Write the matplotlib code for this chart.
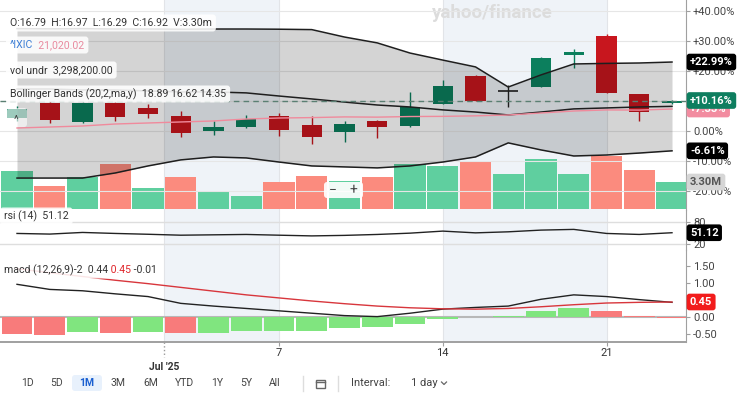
import numpy as np
import matplotlib
matplotlib.use('Agg')
import matplotlib.pyplot as plt
from matplotlib.patches import FancyBboxPatch, Rectangle
from matplotlib.lines import Line2D
from matplotlib.transforms import IdentityTransform, blended_transform_factory
from matplotlib.ticker import FuncFormatter

plt.rcParams['font.family'] = ['Roboto', 'DejaVu Sans']

# ---------------- data ----------------
dates = ['Jun 24', 'Jun 25', 'Jun 26', 'Jun 27', 'Jun 30', 'Jul 1', 'Jul 2', 'Jul 3',
         'Jul 7', 'Jul 8', 'Jul 9', 'Jul 10', 'Jul 11', 'Jul 14', 'Jul 15', 'Jul 16',
         'Jul 17', 'Jul 18', 'Jul 21', 'Jul 22', 'Jul 23']
opens = [16.03, 16.79, 15.82, 16.79, 16.54, 16.13, 15.36, 15.56, 16.13, 15.67, 15.31,
         15.87, 15.62, 16.74, 18.18, 17.41, 17.61, 19.25, 20.22, 17.25, 16.79]
highs = [16.64, 16.90, 16.84, 16.84, 16.74, 16.38, 15.87, 16.18, 16.28, 16.13, 15.87,
         15.92, 17.36, 17.97, 18.23, 17.72, 19.15, 19.56, 20.33, 17.25, 16.97]
lows = [15.87, 15.77, 15.77, 15.87, 16.03, 15.05, 15.16, 15.51, 15.10, 14.69, 14.80,
        15.00, 15.56, 16.74, 16.90, 16.59, 17.61, 18.59, 17.31, 15.87, 16.76]
closes = [16.49, 15.92, 16.79, 16.08, 16.23, 15.26, 15.56, 15.97, 15.41, 15.05, 15.72,
          15.56, 16.59, 17.66, 16.90, 17.41, 19.10, 19.40, 17.31, 16.33, 16.92]
base_close = 15.359

volumes = [4640000, 2810000, 3910000, 5500000, 2570000, 3910000, 2200000, 1590000,
           3300000, 4030000, 3420000, 3910000, 5500000, 5260000, 5740000, 4280000,
           6110000, 4280000, 6480000, 4770000, 3298200]

bb_upper = [20.60, 20.59, 20.60, 20.58, 20.58, 20.57, 20.58, 20.58, 20.57, 20.55, 20.17,
            19.87, 19.35, 18.99, 18.64, 17.61, 18.23, 18.79, 18.82, 18.84, 18.89]
bb_middle = [17.51, 17.51, 17.46, 17.46, 17.41, 17.36, 17.36, 17.31, 17.15, 17.00, 16.84,
             16.69, 16.59, 16.44, 16.33, 16.18, 16.33, 16.49, 16.54, 16.59, 16.62]
bb_lower = [12.95, 12.95, 12.95, 13.21, 13.57, 13.88, 14.03, 13.98, 13.77, 13.57, 13.52,
            13.47, 13.57, 13.77, 14.03, 14.75, 14.39, 14.08, 14.13, 14.23, 14.344]

ixic = [19781, 19846, 19912, 20042, 20108, 20175, 20240, 20368, 20433, 20460, 20505,
        20490, 20530, 20540, 20575, 20630, 20760, 20890, 20960, 20950, 21020.02]
ixic_base = 19585.0

rsi = [49.2, 47.5, 51.9, 49.2, 47.0, 44.5, 45.5, 46.5, 44.5, 42.6, 44.0, 46.5, 50.0,
       55.5, 50.8, 53.6, 58.2, 60.1, 49.2, 46.5, 51.12]
macd = [0.97, 0.82, 0.78, 0.69, 0.61, 0.41, 0.33, 0.26, 0.19, 0.12, 0.05, 0.02, 0.12,
        0.24, 0.29, 0.33, 0.53, 0.66, 0.61, 0.52, 0.44]
signal = [1.43, 1.31, 1.20, 1.09, 0.99, 0.88, 0.77, 0.66, 0.57, 0.48, 0.40, 0.33, 0.28,
          0.25, 0.24, 0.26, 0.31, 0.37, 0.42, 0.44, 0.45]
hist = [-0.49, -0.51, -0.44, -0.45, -0.425, -0.46, -0.455, -0.40, -0.395, -0.39, -0.325,
        -0.28, -0.20, -0.05, 0.0, 0.05, 0.18, 0.28, 0.18, 0.05, -0.01]
hist_before = -0.47

tick_labels = ["Jul '25", '7', '14', '21']
pct_ticks = [-20, -10, 0, 10, 20, 30, 40]
rsi_ticks = [20, 80]
macd_ticks = [-0.5, 0.0, 0.5, 1.0, 1.5]
range_buttons = ['1D', '5D', '1M', '3M', '6M', 'YTD', '1Y', '5Y', 'All']

# ---------------- styles ----------------
W, H = 740, 397
GREEN, RED = '#0c7f5d', '#c8161e'
VGREEN, VRED = '#5fcf9f', '#fb8b7e'
HGREEN, HRED = '#80e57f', '#f87b7b'
TXT = '#333333'

fig = plt.figure(figsize=(W / 100, H / 100), dpi=100)
fig.patch.set_facecolor('white')

n = len(dates)
idx = np.arange(n)
STEP, X0 = 32.75, 17.0
XLIM = (-X0 / STEP, (686 - X0) / STEP)


def add_ax(x0, y0, x1, y1, z):
    ax = fig.add_axes([x0 / W, 1 - y1 / H, (x1 - x0) / W, (y1 - y0) / H])
    ax.set_zorder(z)
    ax.patch.set_alpha(0)
    ax.set_xlim(*XLIM)
    for s in ax.spines.values():
        s.set_visible(False)
    return ax


def pct(p):
    return (np.asarray(p, dtype=float) / base_close - 1) * 100


# tick positions derived from the dates
first_jul = next(i for i, d in enumerate(dates) if d.startswith('Jul'))
tick_pos = [first_jul - 0.5, dates.index('Jul 7'), dates.index('Jul 14'), dates.index('Jul 21')]

# background: week shading + vertical grid
bg = add_ax(0, 0, 686, 342, 0)
bg.set_ylim(0, 1)
bg.axis('off')
bg.axvspan(tick_pos[0], tick_pos[1], color='#eff3f8', lw=0)
bg.axvspan(tick_pos[2], tick_pos[3], color='#eff3f8', lw=0)
for t in tick_pos:
    bg.axvline(t, color='#e2e4e8', lw=0.8)

# volume
vol = add_ax(0, 0, 686, 209, 1)
vpp = volumes[-1] / 27.0
vol.set_ylim(0, 209 * vpp)
vol.axis('off')
prev = [base_close] + closes[:-1]
vcols = [VGREEN if c >= p else VRED for c, p in zip(closes, prev)]
vol.bar(idx, volumes, width=0.96, color=vcols, lw=0)

# main price panel (percent scale)
main = add_ax(0, 0, 686, 210, 2)
main.set_ylim((131 - 210) / 3, 131 / 3)
main.spines['right'].set_visible(True)
main.spines['right'].set_color('#a0a0a0')
main.set_xticks([])
main.yaxis.tick_right()
main.set_yticks(pct_ticks)
main.yaxis.set_major_formatter(FuncFormatter(lambda v, _: '0.00%' if v == 0 else f'{v:+.2f}%'))
main.tick_params(axis='y', length=3, width=0.8, color='#a0a0a0', labelsize=8,
                 labelcolor='#444444', pad=2)
main.grid(axis='y', color='#e6e6e6', lw=0.8)
main.set_axisbelow(True)

o, hh, ll, c = pct(opens), pct(highs), pct(lows), pct(closes)
for i in idx:
    if closes[i] > opens[i]:
        col = GREEN
    elif closes[i] < opens[i]:
        col = RED
    else:
        col = '#222222'
    main.vlines(i, ll[i], hh[i], color=col, lw=1, zorder=2)
    if col == '#222222':
        main.hlines(o[i], i - 0.31, i + 0.31, color=col, lw=1.2, zorder=2)
    else:
        main.bar(i, abs(c[i] - o[i]), bottom=min(o[i], c[i]), width=0.62, color=col,
                 lw=0, zorder=2.1)

up, mid, lo = pct(bb_upper), pct(bb_middle), pct(bb_lower)
main.fill_between(idx, up, lo, color='black', alpha=0.17, lw=0, zorder=3)
for band in (up, mid, lo):
    main.plot(idx, band, color='#1e1e1e', lw=1.1, zorder=4)
ixic_pct = (np.asarray(ixic) / ixic_base - 1) * 100
main.plot(idx, ixic_pct, color='#f08a9c', lw=1, zorder=4)
main.axhline(c[-1], color='#5a7f72', lw=1, ls=(0, (4, 3)), zorder=4)

# RSI panel
rax = add_ax(0, 210, 686, 250, 2)
rax.set_ylim(20 - 5.7 / (22.3 / 60), 80 + 12 / (22.3 / 60))
rax.spines['right'].set_visible(True)
rax.spines['right'].set_color('#a0a0a0')
rax.set_xticks([])
rax.yaxis.tick_right()
rax.set_yticks(rsi_ticks)
rax.set_yticklabels([str(v) for v in rsi_ticks])
rax.tick_params(axis='y', length=3, width=0.8, color='#a0a0a0', labelsize=8,
                labelcolor='#444444', pad=2)
rax.grid(axis='y', color='#dedede', lw=1)
rax.set_axisbelow(True)
rax.plot(idx, rsi, color='#222222', lw=1)

# MACD panel
mx = add_ax(0, 250, 686, 342, 2)
mx.set_ylim(-(342 - 317.3) / 34, (317.3 - 250) / 34)
for s in ('right', 'bottom'):
    mx.spines[s].set_visible(True)
    mx.spines[s].set_color('#a0a0a0')
mx.spines['bottom'].set_linewidth(1.4)
mx.yaxis.tick_right()
mx.set_yticks(macd_ticks)
mx.yaxis.set_major_formatter(FuncFormatter(lambda v, _: f'{v:.2f}'))
mx.tick_params(axis='y', length=3, width=0.8, color='#a0a0a0', labelsize=8,
               labelcolor='#444444', pad=2)
hprev = [hist_before] + hist[:-1]
hcols = [HGREEN if hv >= hp else HRED for hv, hp in zip(hist, hprev)]
mx.axhline(0, color='#b8b8b8', lw=1.5, zorder=1)
mx.bar(idx, hist, width=0.94, color=hcols, lw=0, zorder=2)
mx.plot(idx, macd, color='#222222', lw=1, zorder=3)
mx.plot(idx, signal, color='#d8363c', lw=1, zorder=3)
mx.set_xticks(tick_pos)
mx.set_xticklabels([''] + tick_labels[1:])
mx.tick_params(axis='x', length=3, width=0.8, color='#a0a0a0', labelsize=8,
               labelcolor=TXT, pad=1.5)
mx.xaxis.get_major_ticks()[0].tick1line.set_visible(False)
btr = blended_transform_factory(mx.transData, mx.transAxes)
mx.plot([tick_pos[0]] * 2, [0, -0.16], transform=btr, ls=':', color='#999999', lw=1,
        clip_on=False)
mx.text(tick_pos[0], -0.27, tick_labels[0], transform=btr, ha='center', va='center',
        fontsize=7.5, fontweight='bold', color=TXT)


# ---------------- tags on the right ----------------
def tag(ax, val, s, fc, tc='white', z=30):
    y = ax.transData.transform((0, val))[1]
    fig.text(690 / W, y / H, s, ha='left', va='center', fontsize=8, color=tc,
             fontweight='bold', zorder=z,
             bbox=dict(boxstyle='round,pad=0.3,rounding_size=0.25', fc=fc, ec='none'))


tag(vol, volumes[-1], f'{volumes[-1] / 1e6:.2f}M', '#d6d6d6', tc='#555555', z=29)
tag(main, up[-1], f'{up[-1]:+.2f}%', '#000000')
tag(main, ixic_pct[-1], f'{ixic_pct[-1]:+.2f}%', '#f28ca0', z=29)
tag(main, c[-1], f'{c[-1]:+.2f}%', '#0e7e5f', z=31)
tag(main, lo[-1], f'{lo[-1]:+.2f}%', '#000000')
tag(rax, rsi[-1], f'{rsi[-1]:.2f}', '#000000')
tag(mx, signal[-1], f'{signal[-1]:.2f}', '#f21c1c')


# ---------------- header labels ----------------
def header(x, y, parts, size=7.6, alpha=0.88):
    r = fig.canvas.get_renderer()
    cx = x
    for s, col in parts:
        t = fig.text(cx / W, 1 - y / H, s, color=col, fontsize=size, ha='left',
                     va='center', zorder=26)
        cx += t.get_window_extent(renderer=r).width
    box = FancyBboxPatch((x - 4, H - y - 8.5), cx - x + 8, 17,
                         boxstyle='round,pad=0,rounding_size=3', transform=IdentityTransform(),
                         fc='white', ec='none', alpha=alpha, zorder=25)
    fig.add_artist(box)


header(10, 23, [('O:16.79  H:16.97  L:16.29  C:16.92  V:3.30m', TXT)])
header(10, 45, [('^IXIC', '#3d7fd6'), ('  21,020.02', '#e98a9f')])
header(10, 70, [('vol undr  3,298,200.00', TXT)])
header(10, 94, [('Bollinger Bands (20,2,ma,y)  18.89 16.62 14.35', TXT)])
header(4, 216, [('rsi (14)  51.12', TXT)])
header(4, 270, [('macd (12,26,9)-2  0.44', TXT), (' 0.45', '#e0262b'), (' -0.01', TXT)])

# collapse button and zoom buttons
fig.add_artist(FancyBboxPatch((7, H - 127), 20, 19, boxstyle='round,pad=0,rounding_size=3',
                              transform=IdentityTransform(), fc='white', ec='none',
                              alpha=0.6, zorder=25))
fig.text(16 / W, 1 - 120 / H, '^', ha='center', va='center', fontsize=8, color='#444444',
         zorder=26)
fig.add_artist(FancyBboxPatch((324, H - 198), 39, 16, boxstyle='round,pad=0,rounding_size=3',
                              transform=IdentityTransform(), fc='white', ec='none',
                              alpha=0.92, zorder=25))
fig.text(333 / W, 1 - 190 / H, '−', ha='center', va='center', fontsize=10, color='#444444',
         zorder=26)
fig.text(353 / W, 1 - 190 / H, '+', ha='center', va='center', fontsize=10, color='#444444',
         zorder=26)

# watermark
fig.text(492 / W, 1 - 13 / H, 'yahoo/finance', ha='center', va='center', fontsize=13.5,
         fontweight='bold', color='#dcdcdc', zorder=1)

# ---------------- bottom range bar ----------------
btn_x = [27, 57, 87, 118, 151, 184, 217, 246, 275]
yb = 1 - 383 / H
fig.add_artist(FancyBboxPatch((72, H - 391), 30, 16, boxstyle='round,pad=0,rounding_size=3',
                              transform=IdentityTransform(), fc='#e8f1fc', ec='none', zorder=5))
for bx, lab in zip(btn_x, range_buttons):
    sel = lab == '1M'
    fig.text(bx / W, yb, lab, ha='center', va='center', fontsize=7.5,
             color='#1a5fd0' if sel else '#444444', fontweight='bold' if sel else 'normal',
             zorder=6)
for sx in (303, 338):
    fig.add_artist(Line2D([sx, sx], [H - 391, H - 376], transform=IdentityTransform(),
                          color='#dddddd', lw=1))
fig.add_artist(Rectangle((315.5, H - 388), 9, 8, transform=IdentityTransform(), fc='none',
                         ec='#666666', lw=1))
fig.add_artist(Line2D([315.5, 324.5], [H - 382, H - 382], transform=IdentityTransform(),
                      color='#666666', lw=1))
fig.text(371 / W, yb, 'Interval:', ha='center', va='center', fontsize=8, color='#444444')
fig.text(424 / W, yb, '1 day', ha='center', va='center', fontsize=8, color='#444444')
fig.add_artist(Line2D([441.5, 444, 446.5], [H - 382, H - 384.5, H - 382],
                      transform=IdentityTransform(), color='#666666', lw=0.9))

fig.savefig('out.png', dpi=100)
